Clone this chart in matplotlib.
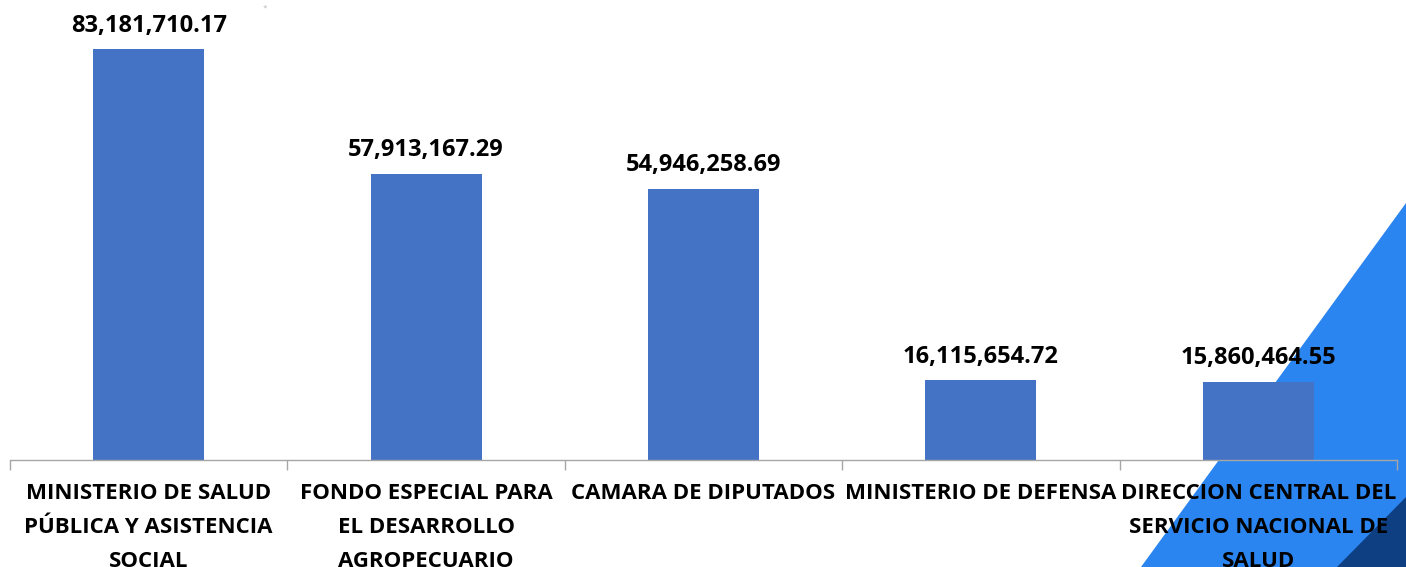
import numpy as np
import matplotlib
matplotlib.use('Agg')
import matplotlib.pyplot as plt
from matplotlib.patches import Polygon

##############Data##############
categories = ['MINISTERIO DE SALUD\nPÚBLICA Y ASISTENCIA\nSOCIAL',
              'FONDO ESPECIAL PARA\nEL DESARROLLO\nAGROPECUARIO',
              'CAMARA DE DIPUTADOS',
              'MINISTERIO DE DEFENSA',
              'DIRECCION CENTRAL DEL\nSERVICIO NACIONAL DE\nSALUD']
values = [83181710.17, 57913167.29, 54946258.69, 16115654.72, 15860464.55]
value_labels = ['83,181,710.17', '57,913,167.29', '54,946,258.69',
                '16,115,654.72', '15,860,464.55']

plt.rcParams['font.family'] = ['Open Sans', 'DejaVu Sans']

W, H = 1406, 567
fig = plt.figure(figsize=(W / 100, H / 100), dpi=100)
fig.patch.set_facecolor('white')

# blue decoration bottom right
light = Polygon([(1.0, 1 - 203 / H), (1.0, 0.0), (1141 / W, 0.0)],
                closed=True, transform=fig.transFigure,
                facecolor='#2A85F0', edgecolor='none', zorder=-2)
dark = Polygon([(1.0, 1 - 497 / H), (1.0, 0.0), (1337 / W, 0.0)],
               closed=True, transform=fig.transFigure,
               facecolor='#0E3F82', edgecolor='none', zorder=-1)
fig.add_artist(light)
fig.add_artist(dark)

# little mark near the top
fig.text(265 / W, 1 - 8 / H, '*', color='#BBBBBB', fontsize=6,
         ha='center', va='center')

ax = fig.add_axes([10 / W, (H - 460) / H, (1397 - 10) / W, 460 / H])
ax.patch.set_alpha(0)

x = np.arange(len(categories))
ax.bar(x, values, width=0.4, color='#4472C4', zorder=2)

for xi, v, lab in zip(x, values, value_labels):
    ax.annotate(lab, (xi, v), xytext=(0, 12.6), textcoords='offset points',
                ha='center', va='baseline', fontsize=17, fontweight='bold',
                color='black')

ax.set_xlim(-0.5, len(categories) - 0.5)
ax.set_ylim(0, 460 / 4.94 * 1e6)

for s in ['top', 'right', 'left']:
    ax.spines[s].set_visible(False)
ax.spines['bottom'].set_color('#A6A6A6')
ax.spines['bottom'].set_linewidth(1.0)
ax.set_yticks([])

ax.set_xticks(x)
ax.set_xticklabels(categories, fontsize=16, fontweight='bold',
                   linespacing=1.8)
ax.tick_params(axis='x', which='major', length=0, pad=16.5)
ax.set_xticks(np.arange(-0.5, len(categories)), minor=True)
ax.tick_params(axis='x', which='minor', length=7, color='#A6A6A6',
               width=1.0)

fig.savefig('out.png', dpi=100)
